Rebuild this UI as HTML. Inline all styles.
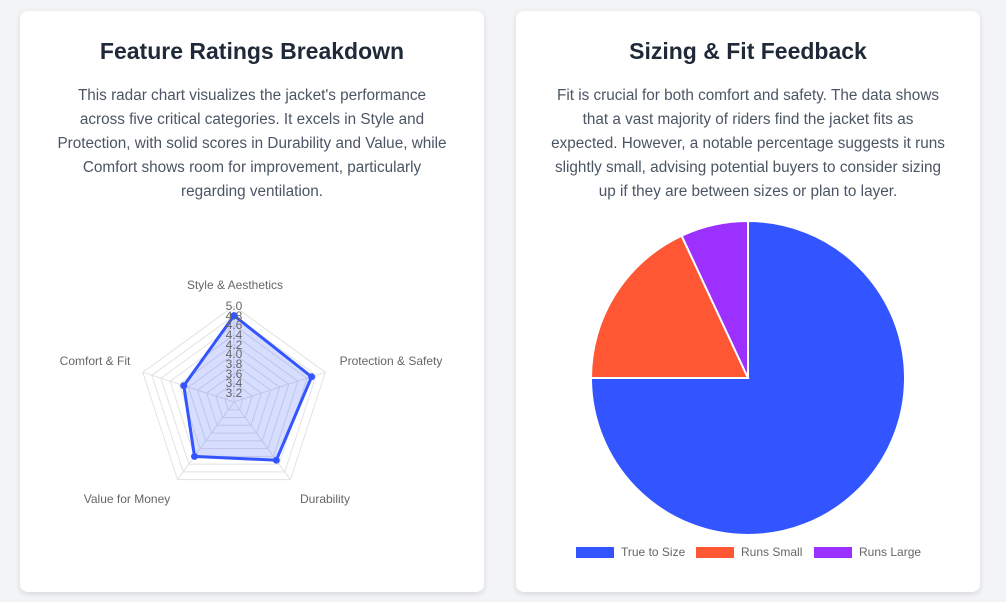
<!DOCTYPE html>
<html><head><meta charset="utf-8"><style>
*{margin:0;padding:0;box-sizing:border-box}
body{width:1006px;height:602px;background:#f3f4f6;font-family:"Liberation Sans",sans-serif;position:relative;overflow:hidden}
.card{position:absolute;top:11px;width:464px;height:581px;background:#fff;border-radius:8px;box-shadow:0 2px 6px rgba(0,0,0,0.12)}
h2{position:absolute;top:27px;left:0;width:100%;text-align:center;font-size:23px;font-weight:bold;color:#1f2937}
p{position:absolute;top:73px;left:0;width:100%;text-align:center;font-size:15.3px;line-height:24px;color:#4b5563;white-space:nowrap}
svg{position:absolute;left:0;top:0}
</style></head><body>
<div class="card" style="left:20px">
<h2>Feature Ratings Breakdown</h2>
<p>This radar chart visualizes the jacket's performance<br>across five critical categories. It excels in Style and<br>Protection, with solid scores in Durability and Value, while<br>Comfort shows room for improvement, particularly<br>regarding ventilation.</p>
</div>
<div class="card" style="left:516px">
<h2>Sizing &amp; Fit Feedback</h2>
<p>Fit is crucial for both comfort and safety. The data shows<br>that a vast majority of riders find the jacket fits as<br>expected. However, a notable percentage suggests it runs<br>slightly small, advising potential buyers to consider sizing<br>up if they are between sizes or plan to layer.</p>
</div>
<svg width="1006" height="602" font-family="Liberation Sans, sans-serif">
<defs><polygon id="pg" points="0,-1 0.9511,-0.309 0.5878,0.809 -0.5878,0.809 -0.9511,-0.309"/></defs>
<g fill="none" stroke="#e2e2e2" stroke-width="1">
<use href="#pg" transform="translate(234,402) scale(9.6)" stroke-width="0.104"/>
<use href="#pg" transform="translate(234,402) scale(19.2)" stroke-width="0.052"/>
<use href="#pg" transform="translate(234,402) scale(28.8)" stroke-width="0.0347"/>
<use href="#pg" transform="translate(234,402) scale(38.4)" stroke-width="0.026"/>
<use href="#pg" transform="translate(234,402) scale(48)" stroke-width="0.0208"/>
<use href="#pg" transform="translate(234,402) scale(57.6)" stroke-width="0.0174"/>
<use href="#pg" transform="translate(234,402) scale(67.2)" stroke-width="0.0149"/>
<use href="#pg" transform="translate(234,402) scale(76.8)" stroke-width="0.013"/>
<use href="#pg" transform="translate(234,402) scale(86.4)" stroke-width="0.0116"/>
<use href="#pg" transform="translate(234,402) scale(96)" stroke-width="0.0104"/>
<line x1="234" y1="402" x2="234" y2="306"/>
<line x1="234" y1="402" x2="325.3" y2="372.3"/>
<line x1="234" y1="402" x2="290.4" y2="479.7"/>
<line x1="234" y1="402" x2="177.6" y2="479.7"/>
<line x1="234" y1="402" x2="142.7" y2="372.3"/>
</g>
<polygon points="234,315.6 311.6,376.8 276.3,460.2 194.5,456.4 183.8,385.7" fill="rgba(51,85,255,0.2)" stroke="#3355ff" stroke-width="3"/>
<g fill="#3355ff"><circle cx="234" cy="315.6" r="3.5"/><circle cx="311.6" cy="376.8" r="3.5"/><circle cx="276.3" cy="460.2" r="3.5"/><circle cx="194.5" cy="456.4" r="3.5"/><circle cx="183.8" cy="385.7" r="3.5"/></g>
<g font-size="12" fill="#666" text-anchor="middle">
<text x="234" y="310">5.0</text><text x="234" y="320">4.8</text><text x="234" y="329">4.6</text><text x="234" y="339">4.4</text><text x="234" y="349">4.2</text><text x="234" y="358">4.0</text><text x="234" y="368">3.8</text><text x="234" y="378">3.6</text><text x="234" y="387">3.4</text><text x="234" y="397">3.2</text>
<text x="235" y="289">Style &amp; Aesthetics</text>
<text x="391" y="365">Protection &amp; Safety</text>
<text x="325" y="503">Durability</text>
<text x="127" y="503">Value for Money</text>
<text x="95" y="365">Comfort &amp; Fit</text>
</g>
<g stroke="#fff" stroke-width="2">
<path d="M748,378 L748,221 A157,157 0 1 1 591,378 Z" fill="#3355ff"/>
<path d="M748,378 L591,378 A157,157 0 0 1 681.6,235.7 Z" fill="#ff5733"/>
<path d="M748,378 L681.6,235.7 A157,157 0 0 1 748,221 Z" fill="#9b30ff"/>
</g>
<g font-size="12" fill="#666">
<rect x="576" y="547" width="38" height="11" fill="#3355ff"/><text x="621" y="556">True to Size</text>
<rect x="696" y="547" width="38" height="11" fill="#ff5733"/><text x="741" y="556">Runs Small</text>
<rect x="814" y="547" width="38" height="11" fill="#9b30ff"/><text x="859" y="556">Runs Large</text>
</g>
</svg>
</body></html>
